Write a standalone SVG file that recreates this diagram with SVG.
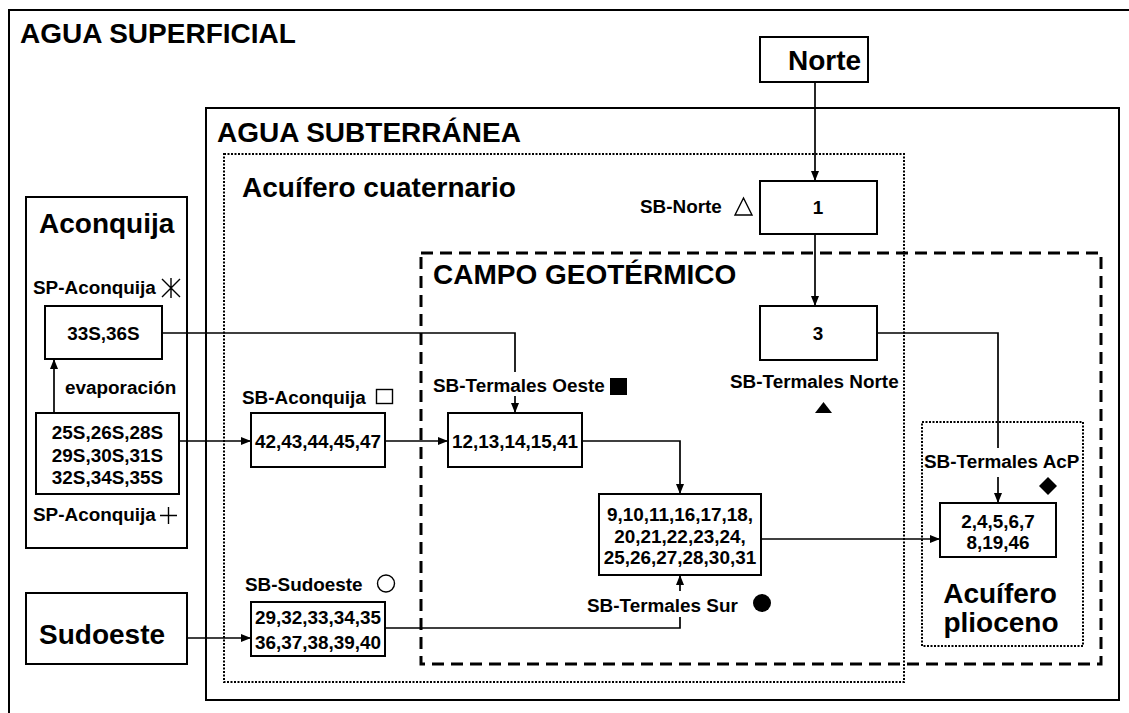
<svg xmlns="http://www.w3.org/2000/svg" width="1129" height="713" viewBox="0 0 1129 713">
<style>
.big{font-family:"Liberation Sans",Arial,sans-serif;font-weight:bold;font-size:28px;fill:#000}
.sm{font-family:"Liberation Sans",Arial,sans-serif;font-weight:bold;font-size:18.9px;fill:#000}
.mid{text-anchor:middle}
.box{fill:#fff;stroke:#000;stroke-width:2}
.frame{fill:none;stroke:#000;stroke-width:2}
.dot{fill:none;stroke:#000;stroke-width:2;stroke-dasharray:2 1.5}
.dash{fill:none;stroke:#000;stroke-width:3;stroke-dasharray:12 7}
.conn{fill:none;stroke:#000;stroke-width:1.7}
.sym{fill:none;stroke:#000;stroke-width:1.4}
</style>
<defs>
<marker id="arr" markerUnits="userSpaceOnUse" markerWidth="10" markerHeight="10" viewBox="0 0 10 10" refX="10" refY="5" orient="auto">
<path d="M0,1 L10,5 L0,9 Z" fill="#000"/>
</marker>
</defs>
<rect width="1129" height="713" fill="#fff"/>
<g id="agua-superficial">
<rect class="frame" x="9" y="10" width="1130" height="720"/>
<text class="big" x="20" y="43">AGUA SUPERFICIAL</text>
</g>
<g id="agua-subterranea">
<rect class="frame" x="206" y="108" width="913" height="592"/>
<text class="big" x="217" y="142">AGUA SUBTERRÁNEA</text>
</g>
<g id="acuifero-cuaternario">
<rect class="dot" x="224" y="154" width="680" height="528"/>
<text class="big" x="242" y="197">Acuífero cuaternario</text>
</g>
<g id="campo-geotermico">
<rect class="dash" x="421" y="253" width="680" height="411"/>
<text class="big" x="433" y="284">CAMPO GEOTÉRMICO</text>
</g>
<g id="acuifero-plioceno">
<rect class="dot" x="922" y="422" width="161" height="224"/>
<text class="big mid" x="1000" y="603">Acuífero</text>
<text class="big mid" x="1001" y="632">plioceno</text>
</g>
<g id="aconquija">
<rect class="frame" x="26" y="197" width="161" height="351"/>
<text class="big" x="39" y="233">Aconquija</text>
<text class="sm" x="33" y="294">SP-Aconquija</text>
<path class="sym" d="M162,279 L180,297 M180,279 L162,297 M171,278 L171,298"/>
<text class="sm" x="33" y="521">SP-Aconquija</text>
<path class="sym" d="M160,515.5 H177 M168.5,507 V524"/>
<text class="sm" x="65" y="394">evaporación</text>
</g>
<g id="sp-33s">
<rect class="box" x="45" y="306" width="117" height="53"/>
<text class="sm mid" x="103.5" y="340">33S,36S</text>
</g>
<g id="sp-25s">
<rect class="box" x="36" y="413" width="143" height="81"/>
<text class="sm mid" x="107.5" y="439">25S,26S,28S</text>
<text class="sm mid" x="107.5" y="462">29S,30S,31S</text>
<text class="sm mid" x="107.5" y="484">32S,34S,35S</text>
</g>
<g id="sudoeste">
<rect class="box" x="26" y="593" width="161" height="71"/>
<text class="big" x="39" y="644">Sudoeste</text>
</g>
<g id="norte">
<rect class="box" x="760" y="37" width="108" height="45"/>
<text class="big" x="788" y="70">Norte</text>
</g>
<g id="sb-aconquija">
<text class="sm" x="242" y="404">SB-Aconquija</text>
<rect class="sym" x="376.5" y="389.5" width="16" height="14"/>
<rect class="box" x="251" y="413" width="134" height="54"/>
<text class="sm mid" x="318" y="448">42,43,44,45,47</text>
</g>
<g id="sb-sudoeste">
<text class="sm" x="245" y="591">SB-Sudoeste</text>
<circle class="sym" cx="386" cy="583.5" r="8.5"/>
<rect class="box" x="251" y="602" width="134" height="54"/>
<text class="sm mid" x="318" y="624">29,32,33,34,35</text>
<text class="sm mid" x="318" y="649">36,37,38,39,40</text>
</g>
<g id="sb-termales-oeste">
<text class="sm" x="433" y="392">SB-Termales Oeste</text>
<rect x="610" y="378" width="17" height="17" fill="#000"/>
<rect class="box" x="448" y="413" width="134" height="54"/>
<text class="sm mid" x="515" y="448">12,13,14,15,41</text>
</g>
<g id="sb-norte">
<text class="sm" x="640" y="213">SB-Norte</text>
<path class="sym" d="M735,215 L743.5,198 L752,215 Z"/>
<rect class="box" x="760" y="181" width="117" height="53"/>
<text class="sm mid" x="818" y="214">1</text>
</g>
<g id="sb-termales-norte">
<rect class="box" x="760" y="306" width="117" height="54"/>
<text class="sm mid" x="818" y="340">3</text>
<text class="sm" x="730" y="388">SB-Termales Norte</text>
<path d="M815,413 L823.5,402 L832,413 Z" fill="#000"/>
</g>
<g id="sb-termales-sur">
<rect class="box" x="599" y="494" width="162" height="81"/>
<text class="sm mid" x="680" y="521">9,10,11,16,17,18,</text>
<text class="sm mid" x="680" y="543">20,21,22,23,24,</text>
<text class="sm mid" x="680" y="564">25,26,27,28,30,31</text>
<text class="sm" x="587" y="612">SB-Termales Sur</text>
<circle cx="762" cy="603" r="9" fill="#000"/>
</g>
<g id="sb-termales-acp">
<text class="sm" x="924" y="468">SB-Termales AcP</text>
<path d="M1048,477 L1057,486 L1048,495 L1039,486 Z" fill="#000"/>
<rect class="box" x="940" y="503" width="116" height="54"/>
<text class="sm mid" x="998" y="528">2,4,5,6,7</text>
<text class="sm mid" x="998" y="549">8,19,46</text>
</g>
<g id="connectors">
<path class="conn" d="M54,413 V359" marker-end="url(#arr)"/>
<path class="conn" d="M179,441 H251" marker-end="url(#arr)"/>
<path class="conn" d="M385,441 H448" marker-end="url(#arr)"/>
<path class="conn" d="M162,333 H515 V372"/>
<path class="conn" d="M515,396 V413" marker-end="url(#arr)"/>
<path class="conn" d="M582,441 H680 V494" marker-end="url(#arr)"/>
<path class="conn" d="M187,638 H251" marker-end="url(#arr)"/>
<path class="conn" d="M385,628 H680 V617"/>
<path class="conn" d="M680,591 V575" marker-end="url(#arr)"/>
<path class="conn" d="M815,82 V181" marker-end="url(#arr)"/>
<path class="conn" d="M815,234 V306" marker-end="url(#arr)"/>
<path class="conn" d="M877,333 H998 V448"/>
<path class="conn" d="M998,477 V503" marker-end="url(#arr)"/>
<path class="conn" d="M761,539 H940" marker-end="url(#arr)"/>
</g>
</svg>
